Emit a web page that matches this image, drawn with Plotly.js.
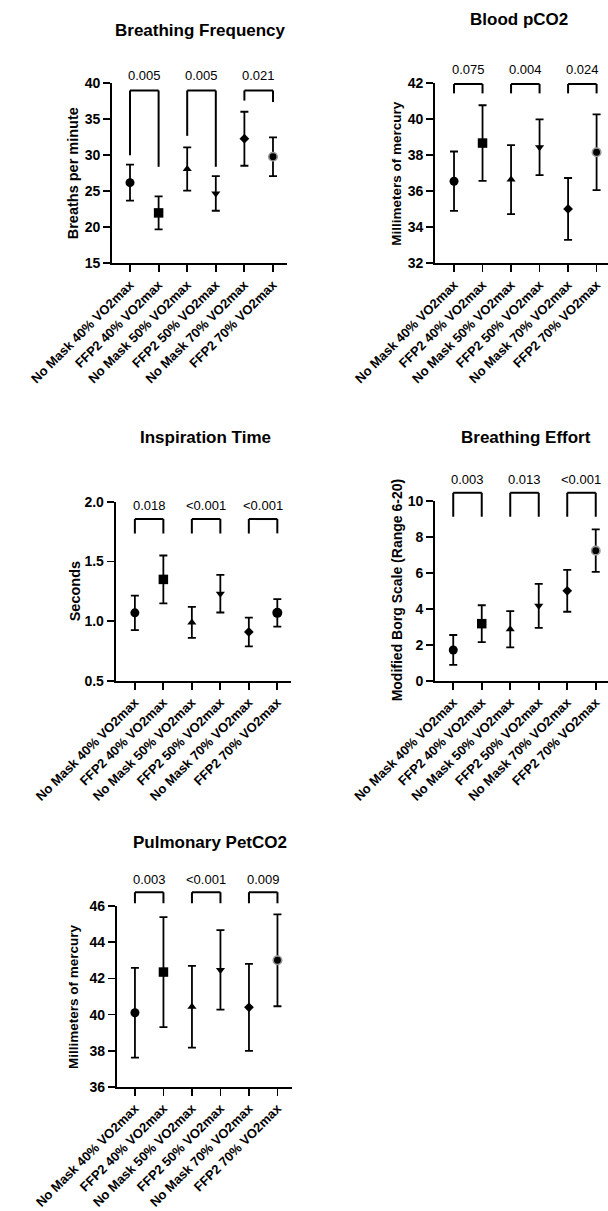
<!DOCTYPE html>
<html>
<head>
<meta charset="utf-8">
<script src="https://cdn.plot.ly/plotly-3.0.1.min.js"></script>
<style>html,body{margin:0;padding:0;background:#fff;}#chart{width:608px;height:1211px;}</style>
</head>
<body>
<div id="chart"></div>
<script>
// ---------------- DATA ----------------
const categories = ['No Mask 40% VO2max','FFP2 40% VO2max','No Mask 50% VO2max','FFP2 50% VO2max','No Mask 70% VO2max','FFP2 70% VO2max'];

const panelTitles = ['Breathing Frequency','Blood pCO2','Inspiration Time','Breathing Effort','Pulmonary PetCO2'];
const yAxisTitles = ['Breaths per minute','Millimeters of mercury','Seconds','Modified Borg Scale (Range 6-20)','Millimeters of mercury'];

const freqMean = [26.2, 22.0, 28.1, 24.7, 32.3, 29.8];
const freqSD   = [2.5, 2.3, 3.0, 2.4, 3.75, 2.7];
const freqP    = ['0.005','0.005','0.021'];
const freqTicks = [15, 20, 25, 30, 35, 40];

const pco2Mean = [36.56, 38.68, 36.65, 38.45, 35.02, 38.17];
const pco2SD   = [1.65, 2.1, 1.92, 1.55, 1.72, 2.1];
const pco2P    = ['0.075','0.004','0.024'];
const pco2Ticks = [32, 34, 36, 38, 40, 42];

const inspMean = [1.07, 1.35, 0.99, 1.23, 0.91, 1.07];
const inspSD   = [0.145, 0.2, 0.13, 0.157, 0.12, 0.115];
const inspP    = ['0.018','<0.001','<0.001'];
const inspTicks = [0.5, 1.0, 1.5, 2.0];

const borgMean = [1.72, 3.18, 2.87, 4.17, 5.0, 7.23];
const borgSD   = [0.83, 1.02, 1.0, 1.22, 1.16, 1.18];
const borgP    = ['0.003','0.013','<0.001'];
const borgTicks = [0, 2, 4, 6, 8, 10];

const petMean = [40.1, 42.35, 40.43, 42.47, 40.4, 43.0];
const petSD   = [2.48, 3.04, 2.26, 2.2, 2.4, 2.54];
const petP    = ['0.003','<0.001','0.009'];
const petTicks = [36, 38, 40, 42, 44, 46];

// significance brackets (data units): top of bracket, bottom of left leg, bottom of right leg, label level
const freqBracketTop = 39.0, freqBracketLeft = [30.0, 32.7, 37.6], freqBracketRight = [28.4, 28.4, 37.4], freqLabelY = 41.05;
const pco2BracketTop = 41.96, pco2BracketLeft = [41.44, 41.44, 41.44], pco2BracketRight = [41.44, 41.44, 41.44], pco2LabelY = 42.78;
const inspBracketTop = 1.855, inspBracketLeft = [1.735, 1.735, 1.735], inspBracketRight = [1.735, 1.735, 1.735], inspLabelY = 1.968;
const borgBracketTop = 10.44, borgBracketLeft = [9.11, 9.11, 9.11], borgBracketRight = [9.11, 9.11, 9.11], borgLabelY = 11.19;
const petBracketTop = 46.76, petBracketLeft = [46.15, 46.15, 46.15], petBracketRight = [46.15, 46.15, 46.15], petLabelY = 47.49;

// ---------------- LAYOUT HELPERS ----------------
const W = 608, H = 1211;
const FONT = '"Liberation Sans", Arial, Helvetica, sans-serif';
const px = v => v / W;
const py = v => 1 - v / H;

const symbols = ['circle','square','triangle-up','triangle-down','diamond','circle'];

const panels = [
  {mean: freqMean, sd: freqSD, p: freqP, ticks: freqTicks, top: freqBracketTop, left: freqBracketLeft, right: freqBracketRight, labelY: freqLabelY,
   xd: [112, 287], xr: [-0.63, 5.49], yd: [83.3, 263.3], title: [200, 31], ytitle: [73, 14.5], tickformat: '',
   sizes: [9, 9.5, 8, 8, 7.5, 8.5], lastStyle: 'ring'},
  {mean: pco2Mean, sd: pco2SD, p: pco2P, ticks: pco2Ticks, top: pco2BracketTop, left: pco2BracketLeft, right: pco2BracketRight, labelY: pco2LabelY,
   xd: [435, 608], xr: [-0.667, 5.40], yd: [83.3, 263.3], title: [519, 19], ytitle: [396.5, 13.5], tickformat: '',
   sizes: [9, 9.5, 8, 8, 7.5, 8.5], lastStyle: 'ring'},
  {mean: inspMean, sd: inspSD, p: inspP, ticks: inspTicks, top: inspBracketTop, left: inspBracketLeft, right: inspBracketRight, labelY: inspLabelY,
   xd: [115.5, 291], xr: [-0.68, 5.48], yd: [501.7, 681], title: [205, 437], ytitle: [75, 14.5], tickformat: '.1f',
   sizes: [9, 9.5, 8, 8, 7.5, 10], lastStyle: 'solid'},
  {mean: borgMean, sd: borgSD, p: borgP, ticks: borgTicks, top: borgBracketTop, left: borgBracketLeft, right: borgBracketRight, labelY: borgLabelY,
   xd: [435, 608], xr: [-0.64, 5.43], yd: [500.7, 681], title: [526, 437], ytitle: [396.5, 14], tickformat: '',
   sizes: [9, 9.5, 8, 8, 7.5, 8.5], lastStyle: 'ring'},
  {mean: petMean, sd: petSD, p: petP, ticks: petTicks, top: petBracketTop, left: petBracketLeft, right: petBracketRight, labelY: petLabelY,
   xd: [116.7, 292], xr: [-0.64, 5.51], yd: [906, 1087], title: [210, 843], ytitle: [73.5, 13.5], tickformat: '',
   sizes: [9, 9.5, 8, 8, 7.5, 8.5], lastStyle: 'ring'}
];

const data = [];
const layout = {
  width: W, height: H,
  margin: {l: 0, r: 0, t: 0, b: 0},
  paper_bgcolor: '#fff', plot_bgcolor: 'rgba(0,0,0,0)',
  showlegend: false,
  font: {family: FONT, color: '#000'},
  annotations: [],
  shapes: []
};

panels.forEach((P, i) => {
  const n = i + 1;
  const xa = n === 1 ? 'x' : 'x' + n;
  const ya = n === 1 ? 'y' : 'y' + n;
  const xKey = n === 1 ? 'xaxis' : 'xaxis' + n;
  const yKey = n === 1 ? 'yaxis' : 'yaxis' + n;
  const y0 = P.ticks[0], y1 = P.ticks[P.ticks.length - 1];
  // position relative to the y-axis domain (allows drawing above the axis top)
  const dom = v => (v - y0) / (y1 - y0);

  layout[xKey] = {
    domain: [px(P.xd[0]), px(P.xd[1])],
    anchor: ya, type: 'category', categoryarray: categories,
    range: P.xr,
    showline: true, linecolor: '#000', linewidth: 1.8,
    ticks: 'outside', ticklen: 7, tickwidth: 1.8, tickcolor: '#000',
    tickangle: -45, showgrid: false, zeroline: false,
    tickfont: {family: FONT, size: 13, color: '#000', weight: 'bold'},
    fixedrange: true
  };
  layout[yKey] = {
    domain: [py(P.yd[1]), py(P.yd[0])],
    anchor: xa,
    range: [y0, y1],
    tickvals: P.ticks, tickformat: P.tickformat,
    showline: true, linecolor: '#000', linewidth: 1.8,
    ticks: 'outside', ticklen: 7, tickwidth: 1.8, tickcolor: '#000',
    showgrid: false, zeroline: false,
    tickfont: {family: FONT, size: 14, color: '#000', weight: 'bold'},
    fixedrange: true
  };

  // brackets
  const yd = ya + ' domain';
  const ln = {color: '#000', width: 2};
  P.p.forEach((lab, k) => {
    const a = 2 * k, b = 2 * k + 1;
    layout.shapes.push({type: 'line', xref: xa, yref: yd, x0: a, x1: a, y0: dom(P.left[k]), y1: dom(P.top), line: ln});
    layout.shapes.push({type: 'line', xref: xa, yref: yd, x0: a, x1: b, y0: dom(P.top), y1: dom(P.top), line: ln});
    layout.shapes.push({type: 'line', xref: xa, yref: yd, x0: b, x1: b, y0: dom(P.top), y1: dom(P.right[k]), line: ln});
    layout.annotations.push({
      xref: xa, yref: yd, x: a + 0.5, y: dom(P.labelY),
      text: lab.replace(/</g, '&lt;'), showarrow: false,
      xanchor: 'center', yanchor: 'middle',
      font: {family: FONT, size: 13, color: '#000'}
    });
  });

  // points with SD error bars
  const lineColors = categories.map((c, k) => (k === 5 && P.lastStyle === 'ring') ? '#9a9a9a' : '#000');
  const lineWidths = categories.map((c, k) => (k === 5 && P.lastStyle === 'ring') ? 1.6 : 0);
  data.push({
    type: 'scatter', mode: 'markers', x: categories, y: P.mean, xaxis: xa, yaxis: ya,
    error_y: {type: 'data', array: P.sd, visible: true, color: '#000', thickness: 1.8, width: 4},
    marker: {symbol: symbols, size: P.sizes, color: '#000', opacity: 1, line: {color: lineColors, width: lineWidths}},
    cliponaxis: false, hoverinfo: 'skip'
  });

  // panel title
  layout.annotations.push({
    xref: 'paper', yref: 'paper', x: px(P.title[0]), y: py(P.title[1]),
    text: panelTitles[i], showarrow: false, xanchor: 'center', yanchor: 'middle',
    font: {family: FONT, size: 17, color: '#000', weight: 'bold'}
  });

  // y-axis title
  layout.annotations.push({
    xref: 'paper', yref: 'paper', x: px(P.ytitle[0]), y: py((P.yd[0] + P.yd[1]) / 2),
    text: yAxisTitles[i], showarrow: false, textangle: -90,
    xanchor: 'center', yanchor: 'middle',
    font: {family: FONT, size: P.ytitle[1], color: '#000', weight: 'bold'}
  });
});

Plotly.newPlot('chart', data, layout, {staticPlot: true, displayModeBar: false});
</script>
</body>
</html>
